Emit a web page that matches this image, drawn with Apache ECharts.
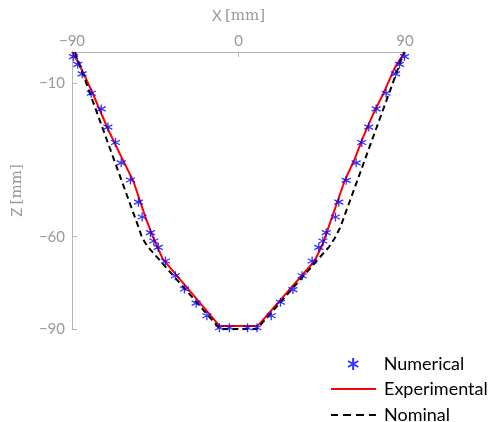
<!DOCTYPE html>
<html>
<head>
<meta charset="utf-8">
<script src="https://cdn.jsdelivr.net/npm/echarts@6/dist/echarts.min.js"></script>
<style>
html, body { margin: 0; padding: 0; background: #fff; }
#chartmain { width: 493px; height: 422px; }
</style>
</head>
<body>
<div id="chartmain"></div>
<script>
// X/Z 坐标 [mm]
var numericalX = [-89.2, -86.9, -84.5, -79.6, -74.2, -70.6, -66.5, -63.4, -58.4, -54.1, -52.1, -47.6, -45.8, -43.4, -39.5, -34.1, -29.2, -22.9, -17.1, -10.3, -4.9,
                  4.9, 10.0, 17.7, 22.7, 29.4, 34.4, 39.8, 43.4, 45.6, 47.4, 52.4, 54.2, 58.2, 63.6, 66.6, 70.4, 74.4, 79.8, 84.9, 87.0, 89.7];
var numericalZ = [-1.5, -4.0, -7.1, -13.4, -18.5, -24.4, -29.4, -36.0, -41.6, -48.8, -53.6, -58.7, -61.4, -63.5, -67.9, -72.7, -77.0, -81.6, -85.7, -89.6, -89.6,
                  -89.6, -89.6, -85.7, -81.3, -77.2, -72.7, -67.9, -63.5, -61.4, -58.7, -53.6, -48.8, -41.7, -36.0, -29.4, -24.4, -18.5, -13.4, -7.1, -4.0, -1.5];

var experimentalX = [-90, -87, -84.2, -78.8, -74.5, -70.6, -63.4, -56.8, -49.9, -46.3, -40.9, -10.3, 10.4, 41.1, 45.6, 49.2, 57.3, 63, 67.2, 72.6, 78, 84.3, 87.5, 90];
var experimentalZ = [0, -3, -6.4, -13.4, -19.5, -25, -34, -42, -54.4, -60, -67.3, -89, -89, -67.9, -62.3, -56, -42, -34.5, -27.9, -20.4, -13.9, -5.3, -2.2, 0];

var nominalX = [-88.4, -54, -52, -49, -46, -10, 10, 46, 49, 52, 55, 89.5];
var nominalZ = [0, -57, -60.5, -63.3, -65.3, -90, -90, -65.3, -63.3, -60.5, -57, 0];

var xTicks = [-90, 0, 90];
var zTicks = [-10, -60, -90];

function pairs(xs, ys) {
    var out = [];
    for (var i = 0; i < xs.length; i++) {
        out.push([xs[i], ys[i]]);
    }
    return out;
}

function fmt(v) {
    return v < 0 ? '\u2212' + Math.abs(v) : String(v);
}

// 图例：每项单独放置
function legendRow(name, left, top, icon, h) {
    return {
        orient: 'vertical',
        left: left,
        top: top,
        padding: 0,
        itemWidth: 45,
        itemHeight: h,
        textStyle: { color: '#000', fontSize: 18, fontFamily: 'Lato, "Open Sans", sans-serif', padding: [0, 0, 0, 3] },
        data: [{ name: name, icon: icon }]
    };
}

$ready = function () {
    var chart = echarts.init(document.getElementById('chartmain'));
    var gray = '#9a9a9a';
    var sans = 'Lato, "Open Sans", sans-serif';
    var asterisk = 'path://M5,0L5,10M0.7,2.5L9.3,7.5M9.3,2.5L0.7,7.5';
    var solidIcon = 'path://M0,0L45,0L45,2L0,2Z';
    var dashIcon = 'path://M0,0h7v2h-7zM12,0h8v2h-8zM25,0h8v2h-8zM38,0h7v2h-7z';

    chart.setOption({
        animation: false,
        grid: { left: 72, top: 52, right: 88, bottom: 93, outerBoundsMode: 'none', containLabel: false },
        legend: [
            legendRow('Numerical', 347, 355, asterisk, 12),
            legendRow('Experimental', 331, 380, solidIcon, 2),
            legendRow('Nominal', 331, 406, dashIcon, 2)
        ],
        xAxis: {
            type: 'value',
            position: 'top',
            min: -90, max: 90, interval: 90,
            name: '{s|X} {m|[mm]}',
            nameLocation: 'middle',
            nameGap: 28,
            nameTextStyle: {
                rich: {
                    s: { color: gray, fontSize: 15, fontFamily: sans },
                    m: { color: gray, fontSize: 15, fontFamily: '"DejaVu Serif", serif' }
                }
            },
            axisLine: { onZero: false, lineStyle: { color: '#b4b4b4', width: 1 } },
            axisTick: { inside: true, length: 5, lineStyle: { color: '#b4b4b4' } },
            axisLabel: { color: gray, fontSize: 15, fontFamily: sans, margin: 3, formatter: fmt, customValues: xTicks },
            splitLine: { show: false }
        },
        yAxis: {
            type: 'value',
            min: -90, max: 0,
            name: '{s|Z} {m|[mm]}',
            nameLocation: 'middle',
            nameGap: 47,
            nameRotate: 90,
            nameTextStyle: {
                rich: {
                    s: { color: gray, fontSize: 15, fontFamily: sans },
                    m: { color: gray, fontSize: 15, fontFamily: '"DejaVu Serif", serif' }
                }
            },
            axisLine: { show: true, onZero: false, lineStyle: { color: '#b4b4b4', width: 1 } },
            axisTick: { show: true, inside: true, length: 5, customValues: zTicks, lineStyle: { color: '#b4b4b4' } },
            axisLabel: { color: gray, fontSize: 15, fontFamily: sans, margin: 7, formatter: fmt, customValues: zTicks },
            splitLine: { show: false }
        },
        series: [
            {
                name: 'Numerical',
                type: 'scatter',
                symbol: asterisk,
                symbolSize: 9,
                z: 4,
                itemStyle: { color: 'rgba(0,0,0,0)', borderColor: '#0000ff', borderWidth: 1.3 },
                data: pairs(numericalX, numericalZ)
            },
            {
                name: 'Experimental',
                type: 'line',
                showSymbol: false,
                symbol: 'none',
                z: 2,
                lineStyle: { color: '#ff0000', width: 2 },
                itemStyle: { color: '#ff0000' },
                data: pairs(experimentalX, experimentalZ)
            },
            {
                name: 'Nominal',
                type: 'line',
                showSymbol: false,
                symbol: 'none',
                z: 3,
                lineStyle: { color: '#000', width: 2, type: [6, 4] },
                itemStyle: { color: '#000' },
                data: pairs(nominalX, nominalZ)
            }
        ]
    });
};
$ready();
</script>
</body>
</html>
